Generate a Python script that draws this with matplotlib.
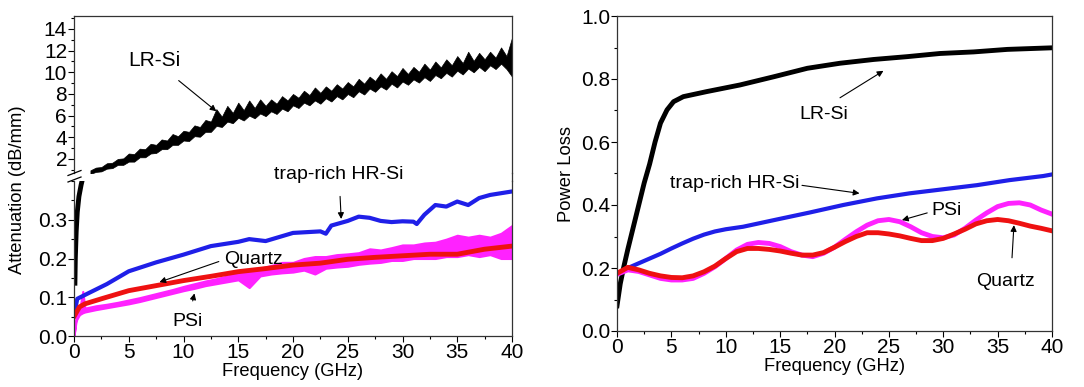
import numpy as np
import matplotlib
matplotlib.use("Agg")
from matplotlib import pyplot as plt
from matplotlib.ticker import MultipleLocator
from matplotlib.lines import Line2D

plt.rcParams['font.family'] = ['Liberation Sans', 'DejaVu Sans']

# ---- left panel: attenuation (dB/mm) ----
lr_freq_lo = [0.08, 0.12, 0.2, 0.3, 0.45, 0.65, 0.9]
lr_att_lo = [0.13, 0.2, 0.27, 0.32, 0.36, 0.39, 0.42]

# LR-Si noisy band, read every 0.5 GHz (upper / lower edge)
lr_freq = list(np.arange(1.5, 40.01, 0.5))
lr_att_top = [0.95, 1.2, 1.25, 1.6, 1.65, 2.0, 2.05, 2.5, 2.45, 2.95, 2.9, 3.4, 3.3, 3.8, 3.7, 4.3,
              4.1, 4.6, 4.5, 5.1, 4.95, 5.6, 5.45, 6.6, 5.9, 6.9, 6.25, 7.2, 6.5, 7.4, 6.7, 7.5,
              6.9, 7.5, 7.1, 7.8, 7.4, 8.0, 7.65, 8.3, 7.9, 8.6, 8.1, 8.7, 8.3, 8.9, 8.5, 9.1,
              8.7, 9.4, 8.95, 9.6, 9.2, 9.9, 9.4, 10.1, 9.65, 10.4, 9.85, 10.5, 10.05, 10.8, 10.25,
              11.0, 10.45, 11.2, 10.65, 11.5, 10.85, 11.9, 11.05, 11.8, 11.2, 11.9, 11.35, 12.3,
              11.5, 13.2]
lr_att_bot = [0.62, 0.8, 0.85, 1.1, 1.15, 1.45, 1.45, 1.75, 1.75, 2.15, 2.15, 2.5, 2.55, 2.9, 2.9,
              3.3, 3.3, 3.7, 3.65, 4.1, 4.05, 4.5, 4.5, 5.05, 4.95, 5.45, 5.3, 5.8, 5.55, 6.0, 5.75,
              6.2, 5.95, 6.4, 6.15, 6.65, 6.4, 6.95, 6.7, 7.2, 6.95, 7.4, 7.1, 7.6, 7.3, 7.8, 7.5,
              8.0, 7.7, 8.25, 7.95, 8.5, 8.2, 8.7, 8.4, 8.95, 8.6, 9.15, 8.85, 9.35, 9.05, 9.55,
              9.2, 9.75, 9.45, 9.95, 9.6, 10.15, 9.8, 10.35, 10.0, 10.5, 10.1, 10.65, 10.3, 10.8,
              10.3, 9.6]

hr_freq = [0, 0.3, 1, 2, 3, 5, 7.5, 10, 12.5, 15, 16, 17.5, 20, 22.5, 23, 23.5, 25, 26, 27,
           28, 29, 30, 31, 31.3, 32, 33, 34, 35, 36, 37, 38, 40]
hr_att = [0.054, 0.096, 0.106, 0.12, 0.134, 0.167, 0.19, 0.21, 0.232, 0.243, 0.25, 0.245, 0.266, 0.27, 0.264,
          0.285, 0.297, 0.308, 0.305, 0.297, 0.294, 0.296, 0.295, 0.289, 0.313, 0.338, 0.334, 0.347, 0.338,
          0.356, 0.364, 0.373]

qz_freq = [0, 0.5, 1, 2.5, 5, 7.5, 10, 12.5, 15, 17.5, 20, 22.5, 25, 27.5, 30, 32.5, 35, 37.5, 40]
qz_att = [0.05, 0.075, 0.083, 0.096, 0.117, 0.13, 0.143, 0.154, 0.166, 0.174, 0.183, 0.188, 0.198,
          0.203, 0.207, 0.211, 0.211, 0.224, 0.232]

ps_freq = [0, 0.2, 0.5, 0.8, 1, 2, 3, 4, 5, 6, 7, 8, 9, 10, 11, 12, 13, 14, 15, 16, 17, 18, 19, 20,
           21, 22, 23, 24, 25, 26, 27, 28, 29, 30, 31, 32, 33, 34, 35, 36, 37, 38, 39, 40]
ps_att_bot = [0.0, 0.04, 0.055, 0.06, 0.062, 0.068, 0.073, 0.078, 0.083, 0.089, 0.096, 0.103, 0.11, 0.117,
              0.123, 0.13, 0.135, 0.14, 0.145, 0.125, 0.155, 0.16, 0.163, 0.165, 0.17, 0.16, 0.175, 0.178,
              0.18, 0.185, 0.188, 0.19, 0.195, 0.195, 0.2, 0.2, 0.2, 0.205, 0.205, 0.21, 0.205, 0.21, 0.2, 0.2]
ps_att_top = [0.0, 0.05, 0.065, 0.115, 0.072, 0.078, 0.082, 0.087, 0.093, 0.099, 0.106, 0.113, 0.12, 0.128,
              0.135, 0.142, 0.148, 0.155, 0.162, 0.17, 0.175, 0.182, 0.19, 0.19, 0.2, 0.205, 0.205, 0.21,
              0.212, 0.215, 0.225, 0.222, 0.228, 0.235, 0.235, 0.24, 0.242, 0.25, 0.26, 0.255, 0.26, 0.255,
              0.265, 0.285]

# ---- right panel: power loss ----
lr_pl_freq = [0, 0.3, 0.6, 1.0, 1.5, 2.0, 2.5, 3.0, 3.5, 4.0, 4.6, 5.2, 6.1, 8.25, 11.3, 14.4, 17.5,
              20.5, 23.6, 26.7, 29.7, 32.8, 35.9, 40]
lr_pl = [0.08, 0.15, 0.2, 0.26, 0.33, 0.4, 0.47, 0.53, 0.6, 0.66, 0.702, 0.728, 0.744, 0.76, 0.781,
         0.807, 0.834, 0.85, 0.862, 0.871, 0.881, 0.886, 0.894, 0.899]

hr_pl_freq = [0, 1, 2, 3, 4, 5, 6, 7, 8, 9, 10, 11.6, 14.7, 17.7, 20.8, 23.9, 26.9, 30, 33.1, 36.1, 39.2, 40]
hr_pl = [0.18, 0.2, 0.215, 0.23, 0.245, 0.262, 0.278, 0.293, 0.306, 0.316, 0.323, 0.331, 0.354, 0.376,
         0.4, 0.421, 0.437, 0.45, 0.463, 0.479, 0.492, 0.497]

pl_freq = [0, 1, 2, 3, 4, 5, 6, 7, 8, 9, 10, 11, 12, 13, 14, 15, 16, 17, 18, 19, 20,
           21, 22, 23, 24, 25, 26, 27, 28, 29, 30, 31, 32, 33, 34, 35, 36, 37, 38, 39, 40]
qz_pl = [0.183, 0.202, 0.194, 0.183, 0.175, 0.17, 0.169, 0.175, 0.188, 0.206, 0.23, 0.252, 0.262, 0.262,
         0.259, 0.254, 0.247, 0.241, 0.241, 0.249, 0.266, 0.284, 0.3, 0.312, 0.312, 0.308, 0.302, 0.294,
         0.287, 0.287, 0.294, 0.308, 0.323, 0.34, 0.35, 0.354, 0.35, 0.342, 0.333, 0.326, 0.318]
ps_pl = [0.18, 0.194, 0.189, 0.178, 0.167, 0.162, 0.162, 0.167, 0.183, 0.204, 0.23, 0.257, 0.275, 0.281,
         0.278, 0.268, 0.252, 0.241, 0.236, 0.247, 0.266, 0.291, 0.315, 0.336, 0.35, 0.354, 0.347, 0.331,
         0.312, 0.3, 0.296, 0.305, 0.326, 0.352, 0.375, 0.395, 0.405, 0.407, 0.4, 0.384, 0.371]

BLUE = '#1f1fe8'
RED = '#ee1111'
MAG = '#ff22ff'
FS_TICK = 15
FS_LAB = 13.2

W, H = 1084, 387
fig = plt.figure(figsize=(W / 100, H / 100), dpi=100)


def px_axes(x0, y0, x1, y1):
    # axes from pixel box (top-left origin)
    return fig.add_axes([x0 / W, 1 - y1 / H, (x1 - x0) / W, (y1 - y0) / H])


def style(ax):
    ax.tick_params(direction='out', labelsize=FS_TICK, length=4.5, width=0.8, pad=0.5,
                   top=False, right=False)
    ax.tick_params(which='minor', direction='out', length=2.5, width=0.8, top=False, right=False)
    for s in ax.spines.values():
        s.set_linewidth(0.9)
        s.set_color('#333333')


axu = px_axes(74, 16, 512, 173)
axl = px_axes(74, 181, 512, 336)
axr = px_axes(617, 16, 1052, 331)

# upper part of broken axis
axu.fill_between(lr_freq, lr_att_bot, lr_att_top, color='k', lw=0.5, edgecolor='k')
axu.set_xlim(0, 40)
axu.set_ylim(0.7, 15.2)
axu.set_yticks([2, 4, 6, 8, 10, 12, 14])
axu.yaxis.set_minor_locator(MultipleLocator(1))
axu.spines['bottom'].set_visible(False)
axu.set_xticks([])
style(axu)
axu.tick_params(axis='x', bottom=False, labelbottom=False)
axu.annotate('LR-Si', xy=(13.0, 6.4), xytext=(7.3, 11.1), fontsize=15, ha='center', va='center',
             arrowprops=dict(arrowstyle='-|>', color='k', lw=0.8, shrinkA=9, shrinkB=0,
                             mutation_scale=9))

# lower part
axl.plot(lr_freq_lo, lr_att_lo, color='k', lw=3.5, solid_capstyle='butt')
axl.plot(hr_freq, hr_att, color=BLUE, lw=3)
axl.plot(qz_freq, qz_att, color=RED, lw=3.5)
axl.fill_between(ps_freq, ps_att_bot, ps_att_top, color=MAG, lw=1.5, edgecolor=MAG)
axl.set_xlim(0, 40)
axl.set_ylim(0, 0.40)
axl.set_yticks([0.0, 0.1, 0.2, 0.3])
axl.set_yticklabels(['0.0', '0.1', '0.2', '0.3'])
axl.yaxis.set_minor_locator(MultipleLocator(0.05))
axl.set_xticks(range(0, 41, 5))
axl.xaxis.set_minor_locator(MultipleLocator(2.5))
axl.spines['top'].set_visible(False)
style(axl)
axl.set_xlabel('Frequency (GHz)', fontsize=FS_LAB, labelpad=0.5)
arr = dict(arrowstyle='-|>', color='k', lw=0.8, mutation_scale=9, shrinkB=0)
axl.annotate('trap-rich HR-Si', xy=(24.4, 0.302), xytext=(24.2, 0.418), fontsize=14,
             ha='center', va='center', annotation_clip=False,
             arrowprops=dict(arr, shrinkA=8))
axl.annotate('Quartz', xy=(7.8, 0.139), xytext=(16.4, 0.197), fontsize=14,
             ha='center', va='center', arrowprops=dict(arr, shrinkA=2, relpos=(0, 0.5)))
axl.annotate('PSi', xy=(11.0, 0.11), xytext=(10.4, 0.037), fontsize=14,
             ha='center', va='center', arrowprops=dict(arr, shrinkA=7))

# break marks and continuous right spine
for yb in (175.5, 182):
    fig.add_artist(Line2D([68 / W, 81 / W], [1 - yb / H, 1 - (yb - 5) / H], color='k', lw=0.9))
fig.add_artist(Line2D([512 / W, 512 / W], [1 - 173 / H, 1 - 181 / H], color='#333333', lw=0.9))
fig.text(18 / W, 1 - 190 / H, 'Attenuation (dB/mm)', rotation=90, fontsize=FS_LAB,
         ha='center', va='center')

# right panel
axr.plot(lr_pl_freq, lr_pl, color='k', lw=3.5)
axr.plot(hr_pl_freq, hr_pl, color=BLUE, lw=3)
axr.plot(pl_freq, ps_pl, color=MAG, lw=3.5)
axr.plot(pl_freq, qz_pl, color=RED, lw=3.5)
axr.set_xlim(0, 40)
axr.set_ylim(0, 1.0)
axr.set_yticks(np.arange(0, 1.01, 0.2))
axr.set_yticklabels(['0.0', '0.2', '0.4', '0.6', '0.8', '1.0'])
axr.yaxis.set_minor_locator(MultipleLocator(0.1))
axr.set_xticks(range(0, 41, 5))
axr.xaxis.set_minor_locator(MultipleLocator(2.5))
style(axr)
axr.set_xlabel('Frequency (GHz)', fontsize=FS_LAB, labelpad=1)
axr.set_ylabel('Power Loss', fontsize=FS_LAB, labelpad=4)
axr.annotate('LR-Si', xy=(24.5, 0.826), xytext=(19.0, 0.686), fontsize=14, ha='center', va='center',
             arrowprops=dict(arr, shrinkA=8, relpos=(0.55, 1)))
axr.annotate('trap-rich HR-Si', xy=(22.3, 0.437), xytext=(10.8, 0.469), fontsize=14,
             ha='center', va='center', arrowprops=dict(arr, shrinkA=0, relpos=(1, 0.4)))
axr.annotate('PSi', xy=(26.2, 0.352), xytext=(30.3, 0.384), fontsize=14, ha='center', va='center',
             arrowprops=dict(arr, shrinkA=1, relpos=(0, 0.4)))
axr.annotate('Quartz', xy=(36.5, 0.336), xytext=(35.7, 0.157), fontsize=14, ha='center', va='center',
             arrowprops=dict(arr, shrinkA=9, relpos=(0.6, 1)))

fig.savefig('out.png', dpi=100)
